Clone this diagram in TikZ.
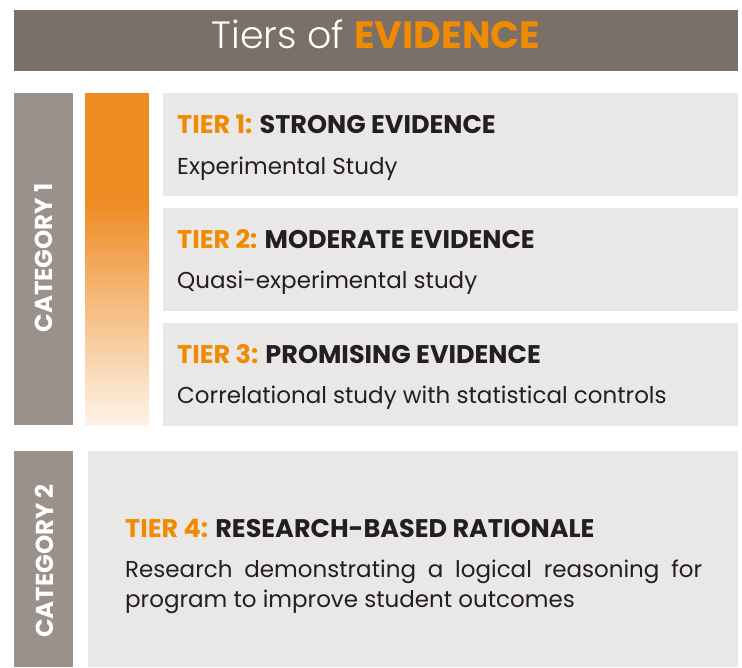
\documentclass[tikz,border=0pt]{standalone}
\usepackage{fontspec}
\setmainfont{Poppins}
\newfontfamily\titlelight{Poppins Light}
\definecolor{titlebar}{HTML}{7A7068}
\definecolor{catgray}{HTML}{9A918B}
\definecolor{tierorange}{HTML}{F08A00}
\definecolor{barorange}{HTML}{EE8B22}
\definecolor{barlight}{HTML}{FDF3E8}
\definecolor{tierbg}{HTML}{E9E8E6}
\definecolor{darktext}{HTML}{231F20}
\begin{document}
\begin{tikzpicture}[x=1pt,y=-1pt,
  headtext/.style={anchor=base west,inner sep=0pt,font=\fontsize{25.5}{30}\selectfont\bfseries,text=darktext},
  bodytext/.style={anchor=base west,inner sep=0pt,font=\fontsize{23}{30}\selectfont,text=darktext},
  cattext/.style={rotate=90,inner sep=0pt,font=\fontsize{24.5}{28}\selectfont\bfseries,text=white}]
\useasboundingbox (0,0) rectangle (742,667);
% title bar
\fill[titlebar] (14,10) rectangle (738,71);
\node[anchor=base,inner sep=0pt,font=\fontsize{38}{42}\selectfont] (title) at (376,48)
  {\textcolor{white}{\titlelight Tiers of} \textcolor{tierorange}{\bfseries EVIDENCE}};
% category 1
\fill[catgray] (14,93) rectangle (73,425);
\node[cattext] (cat1) at (44,258) {CATEGORY 1};
\fill[barorange] (85,93) rectangle (149,201);
\shade[top color=barorange,bottom color=barlight] (85,200) rectangle (149,425);
% tier boxes
\fill[tierbg] (163,93) rectangle (738,196);
\fill[tierbg] (163,208) rectangle (738,311);
\fill[tierbg] (163,323) rectangle (738,426);
\node[headtext] (t1) at (177,133) {\textcolor{tierorange}{TIER 1:} STRONG EVIDENCE};
\node[bodytext] (b1) at (177,174) {Experimental Study};
\node[headtext] (t2) at (177,248) {\textcolor{tierorange}{TIER 2:} MODERATE EVIDENCE};
\node[bodytext] (b2) at (177,288) {Quasi-experimental study};
\node[headtext] (t3) at (177,363) {\textcolor{tierorange}{TIER 3:} PROMISING EVIDENCE};
\node[bodytext] (b3) at (177,403) {Correlational study with statistical controls};
% category 2
\fill[catgray] (14,451) rectangle (73,667);
\node[cattext] (cat2) at (44,561) {CATEGORY 2};
\fill[tierbg] (88,451) rectangle (738,667);
\node[headtext] (t4) at (125,537) {\textcolor{tierorange}{TIER 4:} RESEARCH-BASED RATIONALE};
\node[bodytext] (b4a) at (125,577) {\makebox[577pt][s]{Research demonstrating a logical reasoning for}};
\node[bodytext] (b4b) at (125,607) {program to improve student outcomes};
\end{tikzpicture}
\end{document}
